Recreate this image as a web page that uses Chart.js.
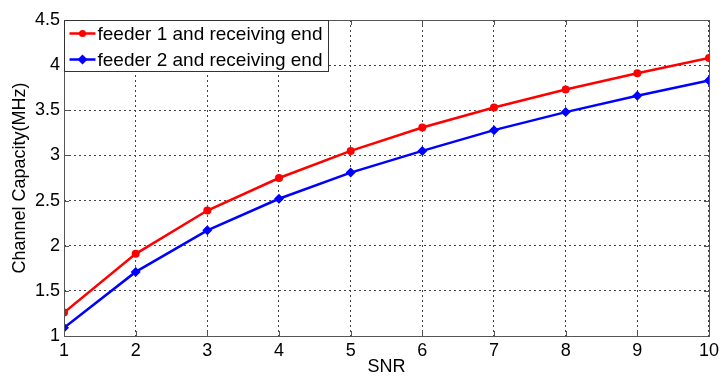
<!DOCTYPE html>
<html>
<head>
<meta charset="utf-8">
<script src="https://cdn.jsdelivr.net/npm/chart.js@4"></script>
<style>
  html, body { margin: 0; padding: 0; background: #fff; }
  #wrap { width: 723px; height: 376px; }
</style>
</head>
<body>
<div id="wrap"><canvas id="chart" width="723" height="376"></canvas></div>
<script>
// values
const snr = [1, 2, 3, 4, 5, 6, 7, 8, 9, 10];
const feeder1 = [1.26, 1.91, 2.39, 2.75, 3.05, 3.31, 3.53, 3.73, 3.91, 4.08];
const feeder2 = [1.09, 1.71, 2.17, 2.52, 2.81, 3.05, 3.28, 3.48, 3.66, 3.83];
const yTicks = [1, 1.5, 2, 2.5, 3, 3.5, 4, 4.5];
const xTicks = [1, 2, 3, 4, 5, 6, 7, 8, 9, 10];
const labels = ["feeder 1 and receiving end", "feeder 2 and receiving end"];

const FONT = "'Liberation Sans', Arial, sans-serif";
const toPts = (ys) => ys.map((y, i) => ({ x: snr[i], y: y }));

// box + inside ticks + legend, matlab style
const boxLegend = {
  id: "boxLegend",
  afterDatasetsDraw(chart) {
    const { ctx, chartArea: a, scales } = chart;
    ctx.save();
    ctx.strokeStyle = "#555";
    ctx.lineWidth = 1;
    ctx.beginPath();
    xTicks.forEach(t => {
      const px = Math.round(scales.x.getPixelForValue(t)) + 0.5;
      ctx.moveTo(px, a.bottom); ctx.lineTo(px, a.bottom - 5);
      ctx.moveTo(px, a.top); ctx.lineTo(px, a.top + 5);
    });
    yTicks.forEach(t => {
      const py = Math.round(scales.y.getPixelForValue(t)) + 0.5;
      ctx.moveTo(a.left, py); ctx.lineTo(a.left + 5, py);
      ctx.moveTo(a.right, py); ctx.lineTo(a.right - 5, py);
    });
    ctx.stroke();
    ctx.strokeRect(Math.round(a.left) + 0.5, Math.round(a.top) + 0.5,
      Math.round(a.right - a.left), Math.round(a.bottom - a.top));

    // legend
    const lx = Math.round(a.left) + 0.5, ly = Math.round(a.top) + 0.5;
    const lw = 264, lh = 51;
    ctx.fillStyle = "#fff";
    ctx.fillRect(lx, ly, lw, lh);
    ctx.strokeStyle = "#333";
    ctx.strokeRect(lx, ly, lw, lh);
    ctx.font = "19px " + FONT;
    ctx.textBaseline = "middle";
    chart.data.datasets.forEach((ds, i) => {
      const y = ly + 13 + i * 26;
      ctx.strokeStyle = ds.borderColor;
      ctx.lineWidth = 2.5;
      ctx.beginPath();
      ctx.moveTo(lx + 5, y); ctx.lineTo(lx + 31, y);
      ctx.stroke();
      ctx.fillStyle = ds.borderColor;
      ctx.beginPath();
      if (ds.pointStyle === "rectRot") {
        ctx.moveTo(lx + 18, y - 5); ctx.lineTo(lx + 23, y);
        ctx.lineTo(lx + 18, y + 5); ctx.lineTo(lx + 13, y);
      } else {
        ctx.arc(lx + 18, y, 3.5, 0, Math.PI * 2);
      }
      ctx.fill();
      ctx.fillStyle = "#000";
      ctx.fillText(ds.label, lx + 33, y + 1);
    });
    ctx.restore();
  }
};

new Chart(document.getElementById("chart"), {
  type: "line",
  data: {
    datasets: [
      {
        label: labels[0],
        data: toPts(feeder1),
        borderColor: "#ff0000",
        backgroundColor: "#ff0000",
        borderWidth: 2.5,
        pointStyle: "circle",
        pointRadius: 4,
        pointBorderWidth: 0,
        tension: 0
      },
      {
        label: labels[1],
        data: toPts(feeder2),
        borderColor: "#0000ff",
        backgroundColor: "#0000ff",
        borderWidth: 2.5,
        pointStyle: "rectRot",
        pointRadius: 5,
        pointBorderWidth: 0,
        tension: 0
      }
    ]
  },
  options: {
    responsive: false,
    animation: false,
    layout: { padding: { left: 0, right: 13, top: 20, bottom: 0 } },
    plugins: {
      legend: { display: false },
      tooltip: { enabled: false }
    },
    scales: {
      x: {
        type: "linear",
        min: 1,
        max: 10,
        afterFit: (s) => { s.height = 40; },
        afterBuildTicks: (s) => { s.ticks = xTicks.map(v => ({ value: v })); },
        grid: { color: "#444", drawTicks: false },
        border: { display: false, dash: [2, 3] },
        ticks: {
          color: "#000", font: { family: FONT, size: 18 }, padding: 4,
          callback: (v) => String(v)
        },
        title: {
          display: true, text: "SNR", color: "#000",
          font: { family: FONT, size: 18, lineHeight: 1 }, padding: { top: 0, bottom: 0 }
        }
      },
      y: {
        min: 1,
        max: 4.5,
        afterFit: (s) => { s.width = 64; },
        afterBuildTicks: (s) => { s.ticks = yTicks.map(v => ({ value: v })); },
        grid: { color: "#444", drawTicks: false },
        border: { display: false, dash: [2, 3] },
        ticks: {
          color: "#000", font: { family: FONT, size: 18 }, padding: 4,
          callback: (v) => String(v)
        },
        title: {
          display: true, text: "Channel Capacity(MHz)", color: "#000",
          font: { family: FONT, size: 18, lineHeight: 1 }, padding: { top: 11, bottom: 0 }
        }
      }
    }
  },
  plugins: [boxLegend]
});
</script>
</body>
</html>
